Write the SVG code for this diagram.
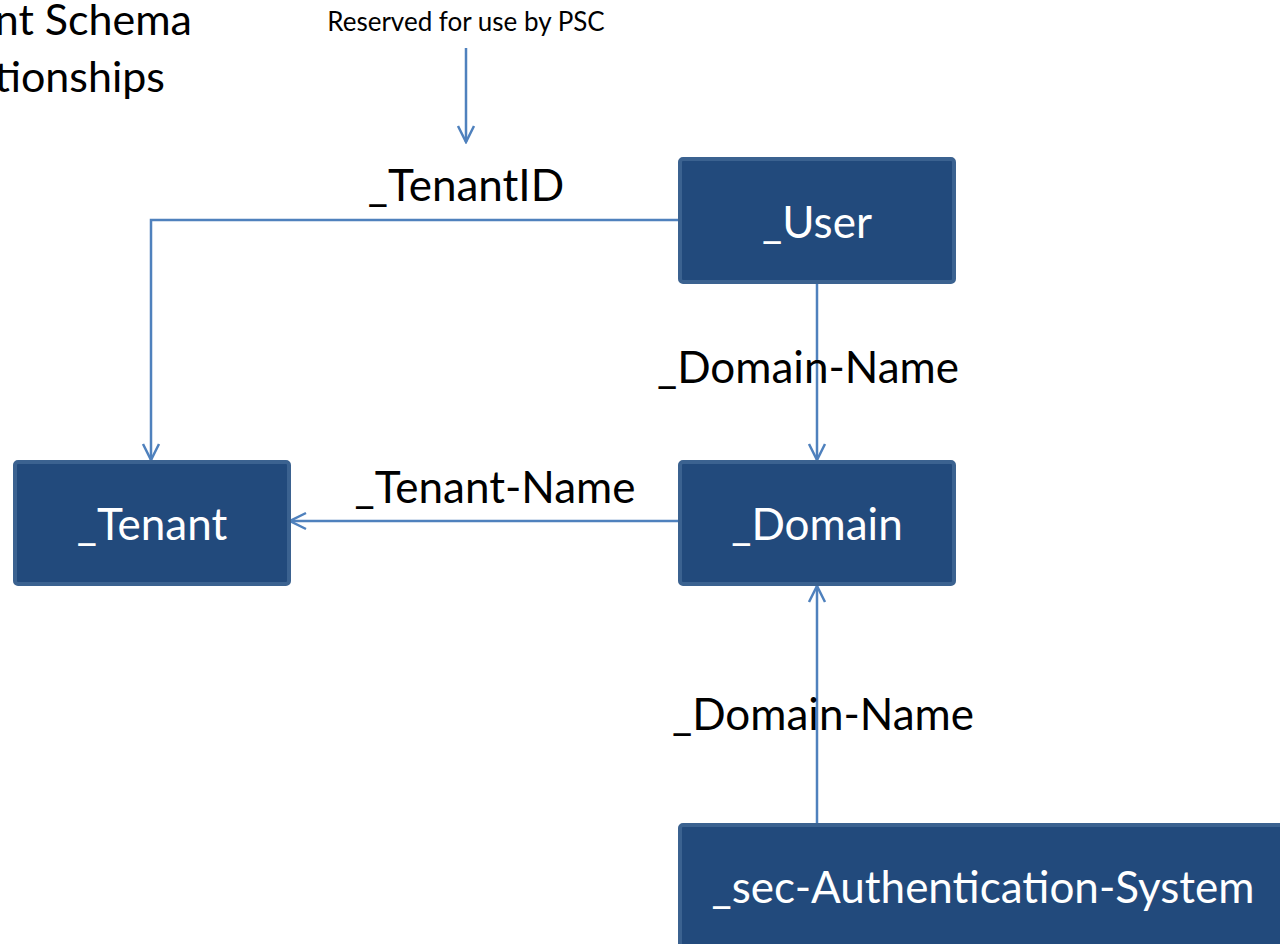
<svg xmlns="http://www.w3.org/2000/svg" width="1280" height="944" viewBox="0 0 1280 944">
  <defs>
    <style>
      .box { fill: #224A7C; stroke: #3B6290; stroke-width: 4; }
      .box-label { font-family: Lato, "Liberation Sans", sans-serif; font-size: 44px; fill: #FFFFFF; text-anchor: middle; }
      .edge { fill: none; stroke: #4F81BD; stroke-width: 2.5; }
      .edge-label { font-family: Lato, "Liberation Sans", sans-serif; font-size: 44px; fill: #000000; text-anchor: middle; }
      .note { font-family: Lato, "Liberation Sans", sans-serif; font-size: 26px; fill: #000000; text-anchor: middle; }
      .title { font-family: Lato, "Liberation Sans", sans-serif; font-size: 43px; fill: #000000; text-anchor: end; }
    </style>
    <marker id="open-arrow" viewBox="0 0 20 20" refX="18" refY="10" markerWidth="20" markerHeight="20" markerUnits="userSpaceOnUse" orient="auto">
      <path d="M2,2 L18,10 L2,18" fill="none" stroke="#4F81BD" stroke-width="2.5"/>
    </marker>
  </defs>

  <rect width="1280" height="944" fill="#FFFFFF"/>

  <!-- title -->
  <text class="title" x="192" y="35">nt Schema</text>
  <text class="title" x="165" y="92">tionships</text>

  <!-- connectors -->
  <g id="connectors">
    <path class="edge" d="M466,48 L466,142" marker-end="url(#open-arrow)"/>
    <path class="edge" d="M680,220 L151,220 L151,460" marker-end="url(#open-arrow)"/>
    <path class="edge" d="M817,282 L817,460" marker-end="url(#open-arrow)"/>
    <path class="edge" d="M680,521 L290,521" marker-end="url(#open-arrow)"/>
    <path class="edge" d="M817,824 L817,586" marker-end="url(#open-arrow)"/>
  </g>

  <!-- connector labels -->
  <g id="labels">
    <text class="note" x="466" y="31">Reserved for use by PSC</text>
    <text class="edge-label" x="466" y="201">_TenantID</text>
    <text class="edge-label" x="808" y="383">_Domain-Name</text>
    <text class="edge-label" x="495" y="503">_Tenant-Name</text>
    <text class="edge-label" x="823" y="730">_Domain-Name</text>
  </g>

  <!-- nodes -->
  <g id="node-user">
    <rect class="box" x="680" y="159" width="274" height="123" rx="3"/>
    <text class="box-label" x="817" y="238">_User</text>
  </g>
  <g id="node-tenant">
    <rect class="box" x="15" y="462" width="274" height="122" rx="3"/>
    <text class="box-label" x="152" y="540">_Tenant</text>
  </g>
  <g id="node-domain">
    <rect class="box" x="680" y="462" width="274" height="122" rx="3"/>
    <text class="box-label" x="817" y="540">_Domain</text>
  </g>
  <g id="node-auth-system">
    <rect class="box" x="680" y="825" width="640" height="160" rx="3"/>
    <text class="box-label" x="983" y="903">_sec-Authentication-System</text>
  </g>
</svg>
